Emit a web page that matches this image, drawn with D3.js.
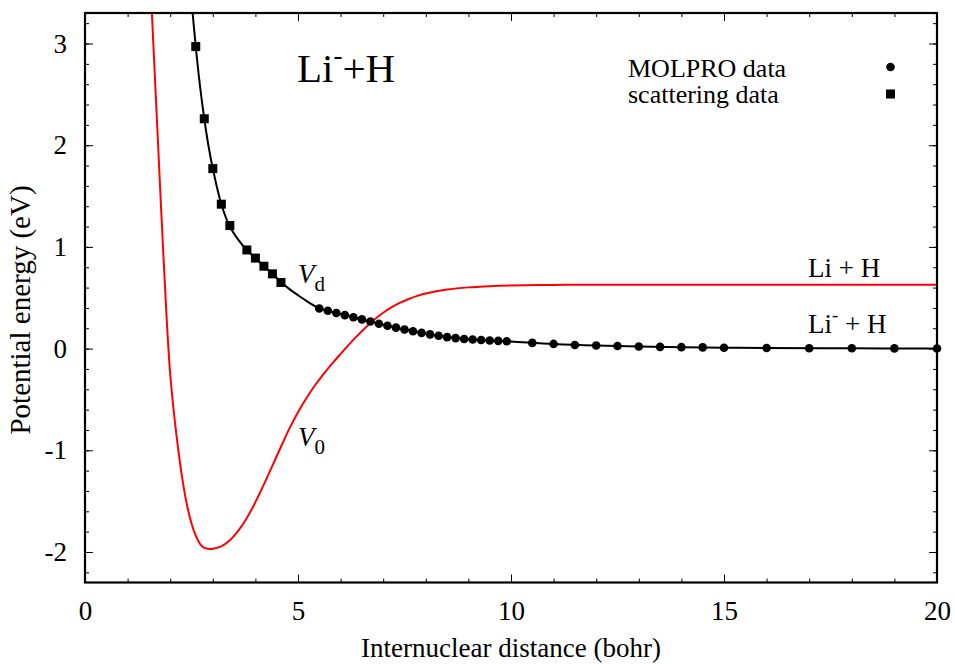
<!DOCTYPE html>
<html>
<head>
<meta charset="utf-8">
<script src="https://cdn.jsdelivr.net/npm/d3@7"></script>
<style>
  body { margin: 0; background: #fff; }
  text { font-family: "Liberation Serif", "Times New Roman", serif; fill: #000; }
</style>
</head>
<body>
<svg id="chart" width="955" height="664"></svg>
<script>
// Data
var xTicks = [0, 5, 10, 15, 20];
var yTicks = [-2, -1, 0, 1, 2, 3];

// scattering data (squares)
var scatX = [2.6, 2.8, 3.0, 3.2, 3.4, 3.8, 4.0, 4.2, 4.4, 4.6];
var scatY = [2.97, 2.26, 1.77, 1.42, 1.21, 0.97, 0.89, 0.81, 0.735, 0.65];

// MOLPRO data (circles)
var molX = [5.5, 5.7, 5.9, 6.1, 6.3, 6.5, 6.7, 6.9, 7.1, 7.3, 7.5, 7.7, 7.9, 8.1, 8.3, 8.5, 8.7, 8.9, 9.1, 9.3, 9.5, 9.7, 9.9,
            10.5, 11, 11.5, 12, 12.5, 13, 13.5, 14, 14.5, 15, 16, 17, 18, 19, 20];
var molY = [0.395, 0.372, 0.35, 0.329, 0.308, 0.287, 0.266, 0.245, 0.225, 0.206, 0.188, 0.171, 0.155, 0.14, 0.126, 0.113, 0.103, 0.095, 0.089, 0.084, 0.08, 0.076, 0.072,
            0.056, 0.046, 0.036, 0.03, 0.026, 0.02, 0.017, 0.014, 0.012, 0.009, 0.006, 0.004, 0.003, 0.002, 0.001];

// V_d fitted curve
var vdX = [2.52, 2.6, 2.7, 2.8, 2.9, 3.0, 3.2, 3.4, 3.6, 3.8, 4.0, 4.2, 4.4, 4.6, 4.8, 5.0, 5.25, 5.5, 6.0, 6.5, 7.0, 7.5, 8.0, 8.5, 9.0, 9.5, 10.0, 11, 12, 13, 14, 15, 16, 18, 20];
var vdY = [3.33, 2.97, 2.58, 2.26, 1.99, 1.77, 1.42, 1.2, 1.07, 0.97, 0.89, 0.81, 0.735, 0.655, 0.585, 0.525, 0.455, 0.395, 0.34, 0.287, 0.235, 0.188, 0.147, 0.113, 0.092, 0.08, 0.07, 0.046, 0.03, 0.02, 0.014, 0.009, 0.006, 0.003, 0.001];

// V_0 curve
var v0X = [1.55, 1.57, 1.66, 1.75, 1.84, 1.92, 2.0, 2.1, 2.2, 2.3, 2.4, 2.5, 2.6, 2.7, 2.8, 2.94,
           3.0, 3.2, 3.4, 3.6, 3.8, 4.0, 4.2, 4.4, 4.6, 4.8, 5.0, 5.2, 5.4, 5.6, 5.8, 6.0, 6.2, 6.4, 6.6, 6.8,
           7.0, 7.2, 7.4, 7.6, 7.8, 8.0, 8.5, 9.0, 9.5, 10, 11, 12, 20];
var v0Y = [3.48, 3.3, 2.5, 1.7, 0.92, 0.27, -0.25, -0.68, -1.03, -1.32, -1.55, -1.72, -1.84, -1.92, -1.96, -1.97,
           -1.968, -1.945, -1.885, -1.79, -1.665, -1.51, -1.335, -1.15, -0.965, -0.785, -0.625, -0.485, -0.36, -0.25, -0.148, -0.052, 0.042, 0.13, 0.213, 0.288,
           0.352, 0.407, 0.452, 0.488, 0.518, 0.541, 0.58, 0.602, 0.614, 0.621, 0.626, 0.627, 0.627];

// Setup margins
const margin = { top: 13, bottom: 81.5, left: 85, right: 18 };
var svg = d3.select("#chart");
var width = 955 - margin.left - margin.right;
var height = 664 - margin.top - margin.bottom;

const plot = svg.append("g")
  .attr("transform", `translate(${margin.left}, ${margin.top})`);

const xscale = d3.scaleLinear().domain([0, 20]).range([0, width]);
const yscale = d3.scaleLinear().domain([-2.3, 3.3]).range([height, 0]);

// minor ticks
var xMinor = d3.range(0, 21, 1);
var yMinor = d3.range(-22, 34, 2).map(d => d / 10);

function styleAxis(g) {
  g.select(".domain").remove();
  g.selectAll("line").attr("stroke", "#000").attr("stroke-width", 1);
  g.selectAll("text").style("font-size", "27px").attr("fill", "#000");
}

// bottom
plot.append("g").attr("transform", `translate(0,${height})`)
  .call(d3.axisBottom(xscale).tickValues(xMinor).tickSizeInner(-4).tickSizeOuter(0).tickFormat(""))
  .call(styleAxis);
plot.append("g").attr("transform", `translate(0,${height})`)
  .call(d3.axisBottom(xscale).tickValues(xTicks).tickSizeInner(-8).tickSizeOuter(0).tickPadding(18).tickFormat(d => String(d)))
  .call(styleAxis);
// top
plot.append("g")
  .call(d3.axisTop(xscale).tickValues(xMinor).tickSizeInner(-4).tickSizeOuter(0).tickFormat(""))
  .call(styleAxis);
plot.append("g")
  .call(d3.axisTop(xscale).tickValues(xTicks).tickSizeInner(-8).tickSizeOuter(0).tickFormat(""))
  .call(styleAxis);
// left
plot.append("g")
  .call(d3.axisLeft(yscale).tickValues(yMinor).tickSizeInner(-4).tickSizeOuter(0).tickFormat(""))
  .call(styleAxis);
plot.append("g")
  .call(d3.axisLeft(yscale).tickValues(yTicks).tickSizeInner(-8).tickSizeOuter(0).tickPadding(18).tickFormat(d => String(d)))
  .call(styleAxis);
// right
plot.append("g").attr("transform", `translate(${width},0)`)
  .call(d3.axisRight(yscale).tickValues(yMinor).tickSizeInner(-4).tickSizeOuter(0).tickFormat(""))
  .call(styleAxis);
plot.append("g").attr("transform", `translate(${width},0)`)
  .call(d3.axisRight(yscale).tickValues(yTicks).tickSizeInner(-8).tickSizeOuter(0).tickFormat(""))
  .call(styleAxis);

// clip
plot.append("clipPath").attr("id", "clip")
  .append("rect").attr("width", width).attr("height", height);

var line = d3.line()
  .x(d => xscale(d[0]))
  .y(d => yscale(d[1]))
  .curve(d3.curveCatmullRom.alpha(0.5));

plot.append("path")
  .datum(v0X.map((x, i) => [x, v0Y[i]]))
  .attr("clip-path", "url(#clip)")
  .attr("fill", "none")
  .attr("stroke", "#ff0000")
  .attr("stroke-width", 2)
  .attr("d", line);

plot.append("path")
  .datum(vdX.map((x, i) => [x, vdY[i]]))
  .attr("clip-path", "url(#clip)")
  .attr("fill", "none")
  .attr("stroke", "#000")
  .attr("stroke-width", 2)
  .attr("d", line);

// markers
plot.selectAll("circle.mol")
  .data(molX.map((x, i) => [x, molY[i]]))
  .enter()
  .append("circle")
  .attr("class", "mol")
  .attr("cx", d => xscale(d[0]))
  .attr("cy", d => yscale(d[1]))
  .attr("r", 4.3)
  .attr("fill", "#000");

plot.selectAll("rect.scat")
  .data(scatX.map((x, i) => [x, scatY[i]]))
  .enter()
  .append("rect")
  .attr("class", "scat")
  .attr("x", d => xscale(d[0]) - 4.5)
  .attr("y", d => yscale(d[1]) - 4.5)
  .attr("width", 9)
  .attr("height", 9)
  .attr("fill", "#000");

// border
plot.append("rect")
  .attr("width", width)
  .attr("height", height)
  .attr("fill", "none")
  .attr("stroke", "#000")
  .attr("stroke-width", 2.2);

// Legend
var legend = svg.append("g");
legend.append("text").attr("x", 628).attr("y", 77).style("font-size", "26px").text("MOLPRO data");
legend.append("text").attr("x", 628).attr("y", 103).style("font-size", "26px").text("scattering data");
legend.append("circle").attr("cx", 890.5).attr("cy", 67).attr("r", 4.3).attr("fill", "#000");
legend.append("rect").attr("x", 886).attr("y", 89.5).attr("width", 9).attr("height", 9).attr("fill", "#000");

// Title Li- + H
var title = svg.append("text").attr("x", 297).attr("y", 82).style("font-size", "41px");
title.append("tspan").text("Li");
title.append("tspan").attr("dy", -18).style("font-size", "27px").text("-");
title.append("tspan").attr("dy", 18).text("+H");

// curve labels
var vd = svg.append("text").attr("x", 298).attr("y", 283).style("font-size", "27px");
vd.append("tspan").style("font-style", "italic").text("V");
vd.append("tspan").attr("dy", 8).style("font-size", "21px").text("d");

var v0 = svg.append("text").attr("x", 298).attr("y", 446).style("font-size", "27px");
v0.append("tspan").style("font-style", "italic").text("V");
v0.append("tspan").attr("dy", 8).style("font-size", "21px").text("0");

svg.append("text").attr("x", 808).attr("y", 277).style("font-size", "27px").text("Li + H");
var lim = svg.append("text").attr("x", 808).attr("y", 333).style("font-size", "27px");
lim.append("tspan").text("Li");
lim.append("tspan").attr("dy", -12).style("font-size", "19px").text("-");
lim.append("tspan").attr("dy", 12).text(" + H");

// Axis titles
svg.append("text")
  .attr("x", margin.left + width / 2)
  .attr("y", 657)
  .attr("text-anchor", "middle")
  .style("font-size", "27px")
  .text("Internuclear distance (bohr)");

svg.append("text")
  .attr("transform", "translate(30,310) rotate(-90)")
  .attr("text-anchor", "middle")
  .style("font-size", "29px")
  .text("Potential energy (eV)");
</script>
</body>
</html>
